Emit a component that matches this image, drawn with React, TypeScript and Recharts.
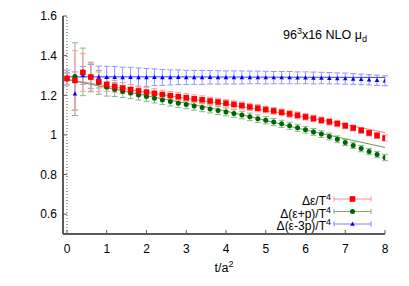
import React from 'react';
import { ComposedChart, Scatter, Line, XAxis, YAxis, ErrorBar, ReferenceLine } from 'recharts';

// flow time t/a^2
const tValues = [
  0, 0.2, 0.4, 0.6, 0.8, 1.0, 1.2, 1.4, 1.6, 1.8,
  2.0, 2.2, 2.4, 2.6, 2.8, 3.0, 3.2, 3.4, 3.6, 3.8,
  4.0, 4.2, 4.4, 4.6, 4.8, 5.0, 5.2, 5.4, 5.6, 5.8,
  6.0, 6.2, 6.4, 6.6, 6.8, 7.0, 7.2, 7.4, 7.6, 7.8,
  8.0,
];

// Δε/T^4
const epsValues = [
  1.285, 1.275, 1.315, 1.292, 1.268, 1.255, 1.245, 1.236, 1.228, 1.222,
  1.216, 1.210, 1.204, 1.198, 1.193, 1.188, 1.182, 1.177, 1.171, 1.166,
  1.160, 1.154, 1.148, 1.141, 1.135, 1.128, 1.121, 1.114, 1.106, 1.099,
  1.091, 1.083, 1.074, 1.066, 1.057, 1.046, 1.035, 1.023, 1.010, 0.997,
  0.984,
];
const epsErrors = [
  0.03, 0.15, 0.095, 0.07, 0.05, 0.035, 0.03, 0.028, 0.026, 0.025,
  0.024, 0.023, 0.022, 0.021, 0.021, 0.02, 0.02, 0.02, 0.019, 0.019,
  0.019, 0.018, 0.018, 0.018, 0.018, 0.017, 0.017, 0.017, 0.017, 0.017,
  0.016, 0.016, 0.016, 0.016, 0.016, 0.015, 0.015, 0.015, 0.015, 0.015,
  0.015,
];

// Δ(ε+p)/T^4
const enthValues = [
  1.282, 1.295, 1.318, 1.292, 1.265, 1.241, 1.229, 1.219, 1.211, 1.202,
  1.194, 1.185, 1.176, 1.168, 1.160, 1.153, 1.146, 1.138, 1.131, 1.123,
  1.116, 1.108, 1.100, 1.091, 1.082, 1.074, 1.065, 1.056, 1.046, 1.036,
  1.026, 1.015, 1.004, 0.992, 0.978, 0.962, 0.947, 0.931, 0.916, 0.901,
  0.886,
];
const enthErrors = [
  0.03, 0.17, 0.12, 0.075, 0.06, 0.045, 0.035, 0.03, 0.028, 0.026,
  0.025, 0.024, 0.023, 0.022, 0.022, 0.021, 0.021, 0.021, 0.02, 0.02,
  0.02, 0.019, 0.019, 0.019, 0.019, 0.018, 0.018, 0.018, 0.018, 0.018,
  0.017, 0.017, 0.017, 0.017, 0.017, 0.016, 0.016, 0.016, 0.016, 0.016,
  0.016,
];

// Δ(ε-3p)/T^4
const traceValues = [
  1.290, 1.208, 1.300, 1.295, 1.292, 1.291, 1.291, 1.290, 1.291, 1.290,
  1.290, 1.291, 1.290, 1.290, 1.291, 1.290, 1.290, 1.290, 1.291, 1.290,
  1.290, 1.290, 1.290, 1.290, 1.290, 1.289, 1.289, 1.289, 1.289, 1.288,
  1.288, 1.287, 1.287, 1.286, 1.285, 1.284, 1.282, 1.280, 1.278, 1.276,
  1.273,
];
const traceErrors = [
  0.037, 0.11, 0.045, 0.06, 0.055, 0.055, 0.054, 0.052, 0.05, 0.048,
  0.045, 0.042, 0.04, 0.038, 0.037, 0.036, 0.035, 0.035, 0.034, 0.034,
  0.033, 0.033, 0.033, 0.032, 0.032, 0.032, 0.031, 0.031, 0.031, 0.03,
  0.03, 0.03, 0.029, 0.029, 0.028, 0.028, 0.027, 0.027, 0.026, 0.026,
  0.025,
];

// fit curves
const fitT = [0, 2, 4, 6, 8];
const epsFit = [1.28, 1.215, 1.155, 1.09, 1.012];
const enthFit = [1.28, 1.198, 1.12, 1.025, 0.937];
const traceFit = [1.293, 1.293, 1.292, 1.291, 1.29];

const xTicks = [0, 1, 2, 3, 4, 5, 6, 7, 8];
const yTicks = [0.6, 0.8, 1, 1.2, 1.4, 1.6];

const toPoints = (vals: number[], errs: number[]) =>
  tValues.map((t, i) => ({ t, y: vals[i], e: errs[i] }));
const toFit = (vals: number[]) => fitT.map((t, i) => ({ t, y: vals[i] }));

const FONT = '"Liberation Sans", Arial, Helvetica, sans-serif';
const FRAME = '#5a5a5a';

const RED = '#ff0000';
const GREEN = '#006400';
const BLUE = '#0000ff';

const Square = (p: any) => <rect x={p.cx - 2.8} y={p.cy - 2.8} width={5.6} height={5.6} fill={RED} />;
const Dot = (p: any) => <circle cx={p.cx} cy={p.cy} r={2.5} fill={GREEN} />;
const Tri = (p: any) => (
  <polygon points={`${p.cx},${p.cy - 2.5} ${p.cx - 2.3},${p.cy + 1.7} ${p.cx + 2.3},${p.cy + 1.7}`} fill={BLUE} />
);

const supStyle: React.CSSProperties = { fontSize: 9, lineHeight: 0, verticalAlign: 'baseline', position: 'relative', top: -5 };
const subStyle: React.CSSProperties = { fontSize: 9, lineHeight: 0, verticalAlign: 'baseline', position: 'relative', top: 3 };

const legendRows = [
  { label: <>Δε/T<span style={supStyle}>4</span></>, bar: '#ff8c8c', y: 199, kind: 'sq' },
  { label: <>Δ(ε+p)/T<span style={supStyle}>4</span></>, bar: '#78ab78', y: 211.5, kind: 'ci' },
  { label: <>Δ(ε-3p)/T<span style={supStyle}>4</span></>, bar: '#8080ff', y: 224, kind: 'tr' },
];

const App: React.FC = () => {
  const tickStyle = { fill: '#000', fontSize: 12, fontFamily: FONT };
  return (
    <div style={{ position: 'relative', width: 409, height: 286, fontFamily: FONT, background: '#fff' }}>
      <style>{'body{margin:0}'}</style>
      <ComposedChart width={409} height={286} margin={{ top: 16, right: 24, bottom: 22, left: 0 }}>
        <XAxis
          type="number"
          dataKey="t"
          domain={[-0.1, 8]}
          ticks={xTicks}
          allowDataOverflow
          height={30}
          tickSize={-4}
          tickMargin={14}
          tick={tickStyle}
          axisLine={{ stroke: FRAME, strokeWidth: 2 }}
          tickLine={{ stroke: FRAME }}
        />
        <XAxis
          xAxisId="top"
          orientation="top"
          type="number"
          dataKey="t"
          domain={[-0.1, 8]}
          ticks={xTicks}
          allowDataOverflow
          height={0}
          tickSize={-4}
          tickFormatter={() => ''}
          axisLine={{ stroke: FRAME, strokeWidth: 2 }}
          tickLine={{ stroke: FRAME }}
        />
        <YAxis
          type="number"
          dataKey="y"
          domain={[0.5, 1.6]}
          ticks={yTicks}
          allowDataOverflow
          width={63}
          tickSize={-4}
          tickMargin={10}
          tick={tickStyle}
          axisLine={{ stroke: FRAME, strokeWidth: 2 }}
          tickLine={{ stroke: FRAME }}
        />
        <YAxis
          yAxisId="right"
          orientation="right"
          type="number"
          domain={[0.5, 1.6]}
          ticks={yTicks}
          allowDataOverflow
          width={0}
          tickSize={-4}
          tickFormatter={() => ''}
          axisLine={{ stroke: FRAME, strokeWidth: 2 }}
          tickLine={{ stroke: FRAME }}
        />
        <ReferenceLine x={0} stroke="#555" strokeDasharray="1 2" />
        <Scatter data={toPoints(traceValues, traceErrors)} dataKey="y" shape={Tri} isAnimationActive={false}>
          <ErrorBar dataKey="e" direction="y" width={3} stroke="#9494ff" strokeWidth={1} isAnimationActive={false} />
        </Scatter>
        <Scatter data={toPoints(enthValues, enthErrors)} dataKey="y" shape={Dot} isAnimationActive={false}>
          <ErrorBar dataKey="e" direction="y" width={3} stroke="#86b886" strokeWidth={1} isAnimationActive={false} />
        </Scatter>
        <Scatter data={toPoints(epsValues, epsErrors)} dataKey="y" shape={Square} isAnimationActive={false}>
          <ErrorBar dataKey="e" direction="y" width={3} stroke="#ff9a9a" strokeWidth={1} isAnimationActive={false} />
        </Scatter>
        <Line data={toFit(traceFit)} dataKey="y" type="monotone" stroke="#3c3cff" strokeWidth={1} dot={false} isAnimationActive={false} />
        <Line data={toFit(epsFit)} dataKey="y" type="monotone" stroke="#ff7a7a" strokeWidth={1} dot={false} isAnimationActive={false} />
        <Line data={toFit(enthFit)} dataKey="y" type="monotone" stroke="#5f9f5f" strokeWidth={1} dot={false} isAnimationActive={false} />
      </ComposedChart>

      {/* title */}
      <div style={{ position: 'absolute', left: 283, top: 28, fontSize: 12.5, lineHeight: '14px', whiteSpace: 'nowrap' }}>
        96<span style={supStyle}>3</span>x16 NLO μ<span style={subStyle}>d</span>
      </div>

      {/* legend */}
      <svg style={{ position: 'absolute', left: 0, top: 0 }} width={409} height={286}>
        {legendRows.map((r) => (
          <g key={r.kind}>
            <line x1={334} x2={371} y1={r.y} y2={r.y} stroke={r.bar} />
            <line x1={334} x2={334} y1={r.y - 2.5} y2={r.y + 2.5} stroke={r.bar} />
            <line x1={371} x2={371} y1={r.y - 2.5} y2={r.y + 2.5} stroke={r.bar} />
            {r.kind === 'sq' && <Square cx={352.5} cy={r.y} />}
            {r.kind === 'ci' && <Dot cx={352.5} cy={r.y} />}
            {r.kind === 'tr' && <Tri cx={352.5} cy={r.y} />}
          </g>
        ))}
      </svg>
      {legendRows.map((r) => (
        <div
          key={r.kind + 't'}
          style={{
            position: 'absolute',
            right: 409 - 331,
            top: r.y - 3,
            fontSize: 12,
            lineHeight: '10px',
            whiteSpace: 'nowrap',
            textAlign: 'right',
          }}
        >
          {r.label}
        </div>
      ))}

      {/* x axis title */}
      <div style={{ position: 'absolute', left: 0, width: 448, top: 262, fontSize: 12.5, textAlign: 'center', lineHeight: '12px' }}>
        t/a<span style={supStyle}>2</span>
      </div>
    </div>
  );
};

export default App;
